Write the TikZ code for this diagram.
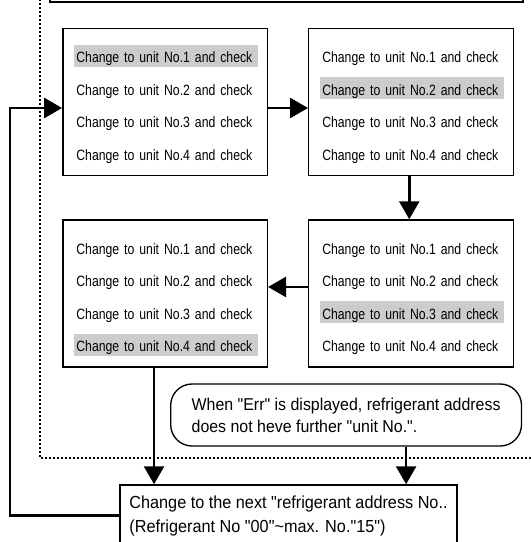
\documentclass[tikz,border=0pt]{standalone}
\usepackage{fontspec}
\usetikzlibrary{calc, arrows.meta}
\newfontfamily\rowfont[FakeStretch=0.82]{Liberation Sans}
\newfontfamily\notefont[FakeStretch=0.93]{Liberation Sans}
\definecolor{rowgray}{HTML}{CCCCCC}

\begin{document}
\begin{tikzpicture}[x=0.75pt, y=-0.75pt]
				\tikzstyle{unitbox} = [draw=black, line width=1.1pt, rectangle, inner sep=0pt, minimum width=153.4pt, minimum height=110.25pt]
				\tikzstyle{unitrow} = [inner xsep=1.5pt, inner ysep=0pt, text width=135pt, align=left, minimum height=16.5pt, text height=11pt, text depth=0.8pt, font=\rowfont\fontsize{11.2}{12}\selectfont, anchor=west]
				\tikzstyle{note} = [draw=black, line width=1pt, rounded corners=16pt, minimum width=263.1pt, minimum height=46.5pt, align=left, font=\notefont\fontsize{12.85}{16.5}\selectfont]
				\tikzstyle{nextbox} = [draw=black, line width=1.1pt, rectangle, inner xsep=2pt, minimum width=252.7pt, minimum height=45.75pt, align=left, font=\notefont\fontsize{13.1}{18}\selectfont]
				\tikzstyle{flow} = [line width=2pt, -{Triangle[length=13.5pt, width=15pt]}]
				\tikzstyle{frame} = [line width=0.8pt, dash pattern=on 1.2pt off 1.8pt]
				
				\path[use as bounding box, clip] (0, 0) rectangle (531, 542);
				
				\draw[frame] (40, -5) |- (540, 458);
				
				\node[draw=black, line width=1.3pt, minimum width=354.75pt, minimum height=16.5pt] at (286.5, -9) (topbox) {};
				
				\node[unitbox] 	at (165.1, 102) 	(box1) 	{};
				\node[unitbox] 	at (411, 102) 		(box2) 	{};
				\node[unitbox] 	at (411, 293.5) 	(box3) 	{};
				\node[unitbox] 	at (165.1, 293.5) 	(box4) 	{};
				
				\foreach \b/\hl in {box1/1, box2/2, box3/3, box4/4}{
					\foreach \i in {1,...,4}{
						\ifnum\i=\hl\def\rowfill{rowgray}\else\def\rowfill{none}\fi
						\pgfmathsetmacro\dy{-21-24.375*(\i-1)}
						\node[unitrow, fill=\rowfill] at ([xshift=9pt, yshift=\dy pt]\b.north west) (\b-\i) {Change to unit No.\i{} and check};
					}
				}
				
				\node[note] 	at (346.1, 415) 	(err) 	{When "Err" is displayed, refrigerant address\\does not heve further "unit No.".};
				\node[nextbox] 	at (288.5, 515.5) 	(next) 	{Change to the next "refrigerant address No..\\(Refrigerant No "00"\textasciitilde max. No."15")};
				
				\coordinate (back) at (10, 300);
				
				\path[flow]
				([yshift=-4.5pt]box1.east)	edge	([yshift=-4.5pt]box2.west)
				([xshift=-1.3pt]box2.south)	edge	([xshift=-1.3pt]box3.north)
				([yshift=4.9pt]box3.west)	edge	([yshift=4.9pt]box4.east)
				([xshift=-8.3pt]box4.south)	edge	([xshift=-8.3pt]box4.south |- next.north)
				([xshift=45pt]err.south)	edge	([xshift=45pt]err.south |- next.north);
				
				\draw[flow] (next.west) -| (back) |- ([yshift=-4.5pt]box1.west);
				\end{tikzpicture}
\end{document}
